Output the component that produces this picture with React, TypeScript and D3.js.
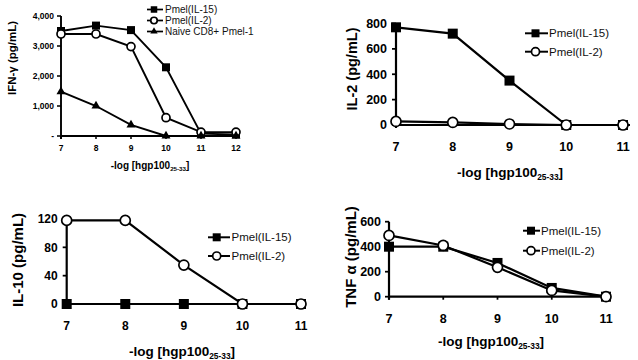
import React from "react";
import * as d3 from "d3";

// ---------- data ----------
const X_IFN = [7, 8, 9, 10, 11, 12];
const IFN_IL15 = [3500, 3680, 3530, 2290, 80, 50];
const IFN_IL2 = [3400, 3400, 2980, 610, 130, 130];
const IFN_NAIVE = [1480, 1000, 370, 0, 0, 0];
const IFN_TICKS = [0, 1000, 2000, 3000, 4000];
const IFN_TICK_LABELS = ["-", "1,000", "2,000", "3,000", "4,000"];

const X_DOSE = [7, 8, 9, 10, 11];
const IL2_IL15 = [770, 720, 350, 0, 0];
const IL2_IL2 = [28, 20, 8, 0, 0];
const IL2_TICKS = [0, 200, 400, 600, 800];

const IL10_IL15 = [0, 0, 0, 0, 0];
const IL10_IL2 = [118, 118, 55, 0, 0];
const IL10_TICKS = [0, 40, 80, 120];

const TNF_IL15 = [400, 400, 270, 70, 0];
const TNF_IL2 = [490, 410, 235, 50, 0];
const TNF_TICKS = [0, 200, 400, 600];

const NAME_IL15 = "Pmel(IL-15)";
const NAME_IL2 = "Pmel(IL-2)";
const NAME_NAIVE = "Naive CD8+ Pmel-1";

const FONT = "'Liberation Sans', Arial, Helvetica, sans-serif";

type Shape = "square" | "circle" | "triangle";
type Series = { name: string; values: number[]; shape: Shape };

function Marker({ shape, x, y, s }: { shape: Shape; x: number; y: number; s: number }) {
  if (shape === "square")
    return <rect x={x - s / 2} y={y - s / 2} width={s} height={s} fill="#000" />;
  if (shape === "circle")
    return <circle cx={x} cy={y} r={s / 2} fill="#fff" stroke="#000" strokeWidth={1.7} />;
  const sym = d3.symbol(d3.symbolTriangle, s * s * 0.55)();
  return <path d={sym || ""} transform={`translate(${x},${y})`} fill="#000" />;
}

type PanelProps = {
  xs: number[];
  series: Series[];
  xPix: [number, number];
  xDom: [number, number];
  yDom: [number, number];
  yPix: [number, number];
  xAxisEnd: number;
  ticks: number[];
  tickLabels?: string[];
  tickFont: number;
  tickLabelGap: number;
  xTickBaseline: number;
  yLabel: string;
  yLabelX: number;
  yLabelY: number;
  yLabelFont: number;
  xLabelX: number;
  xLabelY: number;
  xLabelFont: number;
  axisWidth: number;
  lineWidth: number;
  markerSize: number;
  legend: { lineX0: number; lineX1: number; markX: number; textX: number; rows: number[]; font: number; mark: number };
};

function Panel(p: PanelProps) {
  const x = d3.scaleLinear().domain(p.xDom).range(p.xPix);
  const y = d3.scaleLinear().domain(p.yDom).range(p.yPix);
  const line = d3
    .line<number>()
    .x((_, i) => x(p.xs[i]))
    .y((v) => y(v));
  const x0 = x(p.xs[0]);
  const y0 = y(0);
  const yTop = y(p.ticks[p.ticks.length - 1]);
  return (
    <g fontFamily={FONT}>
      <line x1={x0} x2={x0} y1={yTop} y2={y0 + 3} stroke="#000" strokeWidth={p.axisWidth} />
      <line x1={x0} x2={p.xAxisEnd} y1={y0} y2={y0} stroke="#000" strokeWidth={p.axisWidth} />
      {p.ticks.map((t, i) => (
        <g key={"yt" + i}>
          <line x1={x0 - 4} x2={x0} y1={y(t)} y2={y(t)} stroke="#000" strokeWidth={p.axisWidth * 0.8} />
          <text
            x={x0 - p.tickLabelGap}
            y={y(t)}
            dy="0.35em"
            textAnchor="end"
            fontSize={p.tickFont}
            fontWeight="bold"
          >
            {p.tickLabels ? p.tickLabels[i] : String(t)}
          </text>
        </g>
      ))}
      {p.xs.map((v, i) => (
        <g key={"xt" + i}>
          <line x1={x(v)} x2={x(v)} y1={y0} y2={y0 + 3} stroke="#000" strokeWidth={p.axisWidth * 0.8} />
          <text x={x(v)} y={p.xTickBaseline} textAnchor="middle" fontSize={p.tickFont} fontWeight="bold">
            {String(v)}
          </text>
        </g>
      ))}
      <text
        transform={`translate(${p.yLabelX},${p.yLabelY}) rotate(-90)`}
        textAnchor="middle"
        fontSize={p.yLabelFont}
        fontWeight="bold"
      >
        {p.yLabel}
      </text>
      <text x={p.xLabelX} y={p.xLabelY} textAnchor="middle" fontSize={p.xLabelFont} fontWeight="bold">
        -log [hgp100
        <tspan fontSize={p.xLabelFont * 0.62} dy={p.xLabelFont * 0.22}>
          25-33
        </tspan>
        <tspan dy={-p.xLabelFont * 0.22}>]</tspan>
      </text>
      {p.series.map((s, si) => (
        <g key={"s" + si}>
          <path d={line(s.values) || ""} fill="none" stroke="#000" strokeWidth={p.lineWidth} />
          {s.values.map((v, i) => (
            <Marker key={i} shape={s.shape} x={x(p.xs[i])} y={y(v)} s={p.markerSize} />
          ))}
        </g>
      ))}
      {p.series.map((s, si) => (
        <g key={"l" + si}>
          <line
            x1={p.legend.lineX0}
            x2={p.legend.lineX1}
            y1={p.legend.rows[si]}
            y2={p.legend.rows[si]}
            stroke="#000"
            strokeWidth={p.lineWidth * 0.9}
          />
          <Marker shape={s.shape} x={p.legend.markX} y={p.legend.rows[si]} s={p.legend.mark} />
          <text x={p.legend.textX} y={p.legend.rows[si]} dy="0.35em" fontSize={p.legend.font} fill="#111">
            {s.name}
          </text>
        </g>
      ))}
    </g>
  );
}

export default function App() {
  return (
    <svg width={638} height={360} style={{ position: "absolute", left: 0, top: 0, background: "#fff" }}>
      <rect width={638} height={360} fill="#fff" />
      <Panel
        xs={X_IFN}
        series={[
          { name: NAME_IL15, values: IFN_IL15, shape: "square" },
          { name: NAME_IL2, values: IFN_IL2, shape: "circle" },
          { name: NAME_NAIVE, values: IFN_NAIVE, shape: "triangle" },
        ]}
        xPix={[61, 236]}
        xDom={[7, 12]}
        yDom={[0, 4000]}
        yPix={[136, 16]}
        xAxisEnd={240}
        ticks={IFN_TICKS}
        tickLabels={IFN_TICK_LABELS}
        tickFont={8.5}
        tickLabelGap={7}
        xTickBaseline={151}
        yLabel="IFN-γ (pg/mL)"
        yLabelX={16}
        yLabelY={58}
        yLabelFont={11.5}
        xLabelX={150}
        xLabelY={169}
        xLabelFont={10}
        axisWidth={1.9}
        lineWidth={1.9}
        markerSize={8}
        legend={{ lineX0: 147, lineX1: 163, markX: 154, textX: 165, rows: [9.5, 20.5, 31.5], font: 10, mark: 6.5 }}
      />
      <Panel
        xs={X_DOSE}
        series={[
          { name: NAME_IL15, values: IL2_IL15, shape: "square" },
          { name: NAME_IL2, values: IL2_IL2, shape: "circle" },
        ]}
        xPix={[396, 623]}
        xDom={[7, 11]}
        yDom={[0, 800]}
        yPix={[125, 23.5]}
        xAxisEnd={630}
        ticks={IL2_TICKS}
        tickLabels={undefined}
        tickFont={12.5}
        tickLabelGap={9}
        xTickBaseline={151}
        yLabel="IL-2 (pg/mL)"
        yLabelX={357}
        yLabelY={69}
        yLabelFont={14.5}
        xLabelX={510}
        xLabelY={177}
        xLabelFont={13.5}
        axisWidth={2.2}
        lineWidth={2.2}
        markerSize={10}
        legend={{ lineX0: 525, lineX1: 548, markX: 535.5, textX: 549, rows: [33.3, 51.7], font: 11.5, mark: 8 }}
      />
      <Panel
        xs={X_DOSE}
        series={[
          { name: NAME_IL15, values: IL10_IL15, shape: "square" },
          { name: NAME_IL2, values: IL10_IL2, shape: "circle" },
        ]}
        xPix={[66.7, 301]}
        xDom={[7, 11]}
        yDom={[0, 120]}
        yPix={[304, 219]}
        xAxisEnd={306}
        ticks={IL10_TICKS}
        tickLabels={undefined}
        tickFont={12}
        tickLabelGap={9}
        xTickBaseline={330}
        yLabel="IL-10 (pg/mL)"
        yLabelX={23}
        yLabelY={260}
        yLabelFont={15}
        xLabelX={182}
        xLabelY={356}
        xLabelFont={13.5}
        axisWidth={2.2}
        lineWidth={2.2}
        markerSize={10}
        legend={{ lineX0: 208, lineX1: 230, markX: 216.7, textX: 231.5, rows: [237.3, 256], font: 11.5, mark: 8 }}
      />
      <Panel
        xs={X_DOSE}
        series={[
          { name: NAME_IL15, values: TNF_IL15, shape: "square" },
          { name: NAME_IL2, values: TNF_IL2, shape: "circle" },
        ]}
        xPix={[389, 606]}
        xDom={[7, 11]}
        yDom={[0, 600]}
        yPix={[296.7, 221.7]}
        xAxisEnd={611}
        ticks={TNF_TICKS}
        tickLabels={undefined}
        tickFont={12.5}
        tickLabelGap={8}
        xTickBaseline={322.5}
        yLabel="TNF α (pg/mL)"
        yLabelX={356}
        yLabelY={257}
        yLabelFont={15}
        xLabelX={491}
        xLabelY={346}
        xLabelFont={13.5}
        axisWidth={2.2}
        lineWidth={2.2}
        markerSize={10}
        legend={{ lineX0: 523, lineX1: 540, markX: 531, textX: 541, rows: [230.7, 250.7], font: 11.5, mark: 8 }}
      />
    </svg>
  );
}
